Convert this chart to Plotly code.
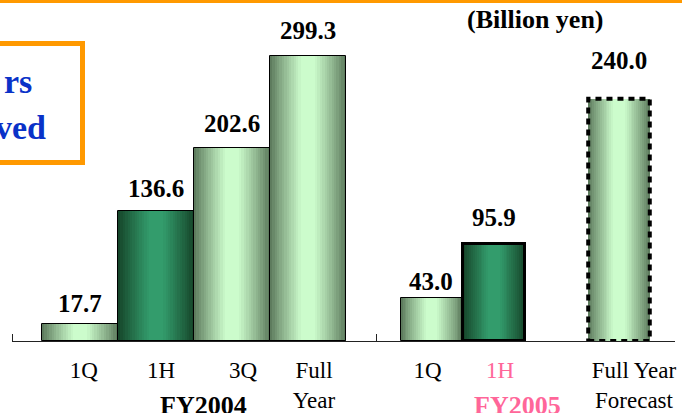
import plotly.graph_objects as go

# ---------------- data ----------------
fy04_labels = ["1Q", "1H", "3Q", "Full<br>Year"]
fy04_values = [17.7, 136.6, 202.6, 299.3]
fy04_dark = [False, True, False, False]

fy05_labels = ["1Q", "<span style='color:#ff6699'>1H</span>", "Full Year<br>Forecast"]
fy05_values = [43.0, 95.9, 240.0]
fy05_dark = [False, True, False]
fy05_pos = [0, 1, 3]

group_titles = ["FY2004", "FY2005"]
unit_text = "(Billion yen)"
box_lines = ["rs", "ved"]

# ---------------- styling ----------------
W, H = 682, 413
SERIF = "Liberation Serif, Times New Roman, serif"
LIGHT_EDGE, LIGHT_MID = (0x5e, 0x7c, 0x5e), (0xcc, 0xfc, 0xcc)
DARK_EDGE, DARK_MID = (0x16, 0x46, 0x2a), (0x33, 0x9c, 0x6c)
N_LAYERS = 16
# small horizontal nudges of the category labels (in category units)
nudge04 = [0.05, 0.066, 0.145, 0.079]
nudge05 = [-0.064, 0.096, 0.24]


def px(x):
    return x / W


def py(y):
    return 1 - y / H


def mix(a, b, f):
    return "rgb(%d,%d,%d)" % tuple(round(a[i] + (b[i] - a[i]) * f) for i in range(3))


fig = go.Figure()


def add_group(xs, vals, dark, bar_w, xa, ya, line_widths):
    for k in range(N_LAYERS):
        t = k / N_LAYERS
        f = min(1.0, (t * 1.25) ** 0.9)
        colors = [mix(DARK_EDGE, DARK_MID, f) if d else mix(LIGHT_EDGE, LIGHT_MID, f) for d in dark]
        fig.add_trace(go.Bar(
            x=xs, y=vals, width=[bar_w * (1 - t)] * len(xs),
            marker=dict(color=colors, line=dict(width=0)),
            xaxis=xa, yaxis=ya, showlegend=False, hoverinfo="skip"))
    fig.add_trace(go.Bar(
        x=xs, y=vals, width=[bar_w] * len(xs),
        marker=dict(color="rgba(0,0,0,0)", line=dict(color="black", width=line_widths)),
        xaxis=xa, yaxis=ya, showlegend=False, hoverinfo="skip"))


fy04_pos = list(range(len(fy04_values)))
add_group(fy04_pos, fy04_values, fy04_dark, 1.0, "x", "y", [1, 1, 1, 1])
add_group(fy05_pos, fy05_values, fy05_dark, 0.985, "x2", "y2", [1, 3, 0])

# dashed outline of the forecast bar
fig.add_shape(type="rect", xref="x2", yref="y2",
              x0=fy05_pos[2] - 0.985 / 2, x1=fy05_pos[2] + 0.985 / 2,
              y0=0, y1=fy05_values[2],
              line=dict(color="black", width=4, dash="6px,5px"))

# value labels
VAL_FONT = dict(family=SERIF, size=25, color="black")
ann = []
shifts04 = [5, 7, 9, 10]
for x, v, s in zip(fy04_pos, fy04_values, shifts04):
    ann.append(dict(x=x, y=v, xref="x", yref="y", text="<b>%.1f</b>" % v, showarrow=False,
                    yanchor="bottom", yshift=s, font=VAL_FONT))
shifts05 = [1, 11, 23]
for x, v, s in zip(fy05_pos, fy05_values, shifts05):
    ann.append(dict(x=x, y=v, xref="x2", yref="y2", text="<b>%.1f</b>" % v, showarrow=False,
                    yanchor="bottom", yshift=s, font=VAL_FONT))

ann.append(dict(x=1.62, y=py(405), xref="x", yref="paper", yanchor="middle", xanchor="center",
                text="<b>%s</b>" % group_titles[0],
                showarrow=False, font=dict(family=SERIF, size=26, color="black")))
ann.append(dict(x=1.38, y=py(405), xref="x2", yref="paper", yanchor="middle", xanchor="center",
                text="<b>%s</b>" % group_titles[1],
                showarrow=False, font=dict(family=SERIF, size=26, color="#ff6699")))
ann.append(dict(x=px(535), y=py(20), xref="paper", yref="paper", yanchor="middle", xanchor="center",
                text="<b>%s</b>" % unit_text,
                showarrow=False, font=dict(family=SERIF, size=26, color="black")))
ann.append(dict(x=px(34), y=py(82), xref="paper", yref="paper", xanchor="right", yanchor="middle",
                text="<b>%s</b>" % box_lines[0], showarrow=False,
                font=dict(family=SERIF, size=34, color="#0a32c8")))
ann.append(dict(x=px(48), y=py(127), xref="paper", yref="paper", xanchor="right", yanchor="middle",
                text="<b>%s</b>" % box_lines[1], showarrow=False,
                font=dict(family=SERIF, size=34, color="#0a32c8")))

shapes = [
    dict(type="rect", xref="paper", yref="paper", x0=0, x1=1, y0=py(3), y1=1,
         fillcolor="#ff9900", line=dict(width=0), layer="above"),
    dict(type="rect", xref="paper", yref="paper", x0=px(-10), x1=px(82.5), y0=py(162.5), y1=py(43.5),
         fillcolor="white", line=dict(color="#ff9900", width=5), layer="below"),
]
for s in shapes:
    fig.add_shape(**s)

axis_common = dict(showline=True, linecolor="#222", linewidth=1, showgrid=False, zeroline=False,
                   ticks="", tickfont=dict(family=SERIF, size=23, color="black"),
                   ticklabelstandoff=8, fixedrange=True, automargin=False)
ybase = py(341)

fig.update_layout(
    width=W, height=H, margin=dict(l=0, r=0, t=0, b=0, autoexpand=False),
    paper_bgcolor="white", plot_bgcolor="rgba(0,0,0,0)",
    barmode="overlay", bargap=0, showlegend=False,
    xaxis=dict(domain=[px(12), px(376)], range=[-0.895, 3.895],
               tickmode="array", tickvals=[p + n for p, n in zip(fy04_pos, nudge04)],
               ticktext=fy04_labels,
               minor=dict(tickmode="array", tickvals=[-0.89], ticks="inside", ticklen=7,
                          tickcolor="#222", tickwidth=1),
               anchor="y", **axis_common),
    xaxis2=dict(domain=[px(376), px(675)], range=[-0.888, 3.896],
                tickmode="array", tickvals=[p + n for p, n in zip(fy05_pos, nudge05)],
                ticktext=fy05_labels,
                minor=dict(tickmode="array", tickvals=[-0.885], ticks="inside", ticklen=7,
                           tickcolor="#222", tickwidth=1),
                anchor="y2", **axis_common),
    yaxis=dict(domain=[ybase, 1], range=[0, 358], visible=False, fixedrange=True),
    yaxis2=dict(domain=[ybase, 1], range=[0, 338], visible=False, fixedrange=True),
    annotations=ann,
)

fig.write_html("out.html", config={"displayModeBar": False},
               post_script="document.body.style.margin='0';document.body.style.overflow='hidden';")
